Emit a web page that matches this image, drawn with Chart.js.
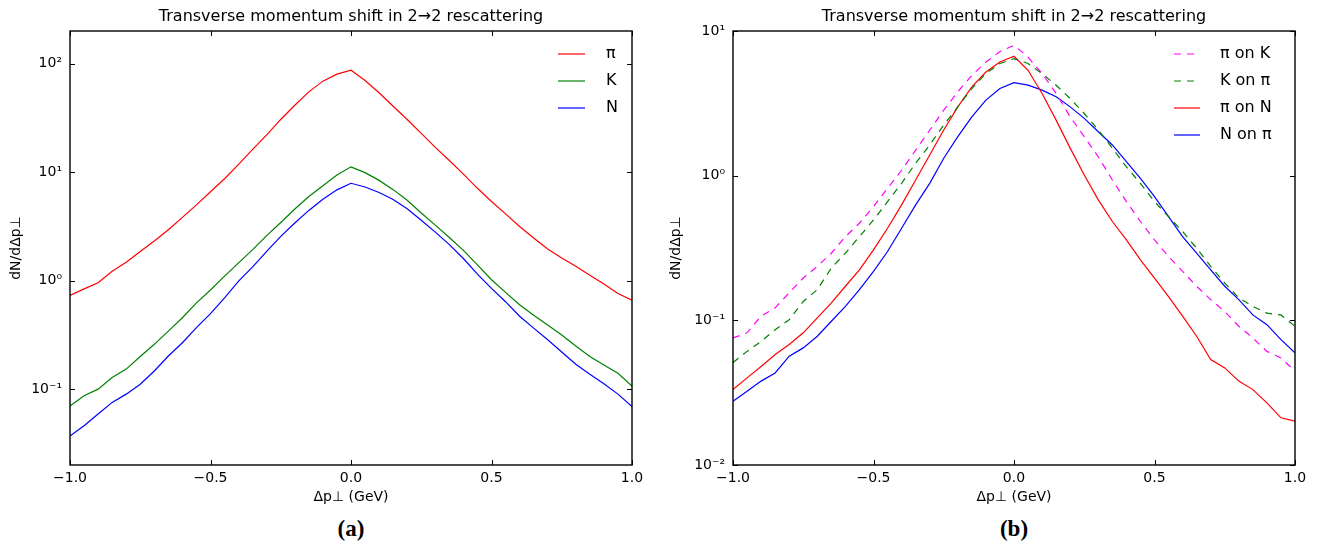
<!DOCTYPE html>
<html>
<head>
<meta charset="utf-8">
<script src="https://cdn.jsdelivr.net/npm/chart.js@4.4.1/dist/chart.umd.min.js"></script>
<style>
  body { margin: 0; background: #fff; }
  #page { position: relative; width: 1318px; height: 545px; font-family: "DejaVu Sans", sans-serif; }
  .panel { position: absolute; top: 0; }
  .tag { position: absolute; top: 516px; width: 80px; margin-left: -40px; text-align: center;
         font-family: "Liberation Serif", "DejaVu Serif", serif; font-weight: bold; font-size: 23px; }
</style>
</head>
<body>
<div id="page">
  <div class="panel" style="left:0"><canvas id="chartA" width="660" height="510"></canvas></div>
  <div class="panel" style="left:660px"><canvas id="chartB" width="658" height="510"></canvas></div>
  <div class="tag" style="left:351px">(a)</div>
  <div class="tag" style="left:1014px">(b)</div>
</div>
<script>
// Δp⊥ sample points (GeV)
const xValues = [-1.0, -0.95, -0.9, -0.85, -0.8, -0.75, -0.7, -0.65, -0.6, -0.55, -0.5,
  -0.45, -0.4, -0.35, -0.3, -0.25, -0.2, -0.15, -0.1, -0.05, 0.0,
  0.05, 0.1, 0.15, 0.2, 0.25, 0.3, 0.35, 0.4, 0.45, 0.5,
  0.55, 0.6, 0.65, 0.7, 0.75, 0.8, 0.85, 0.9, 0.95, 1.0];

// panel (a)
const pion = [0.73, 0.84, 0.955, 1.22, 1.48, 1.86, 2.32, 2.95, 3.83, 5.0, 6.6,
  8.7, 11.8, 16.2, 22.1, 30.6, 41.4, 55, 69, 80, 87,
  70, 54, 40.5, 30.6, 22.8, 16.9, 12.8, 9.6, 7.1, 5.37,
  4.13, 3.16, 2.47, 1.96, 1.62, 1.36, 1.12, 0.93, 0.76, 0.66];
const kaon = [0.070, 0.087, 0.100, 0.128, 0.153, 0.20, 0.259, 0.343, 0.455, 0.625, 0.82,
  1.10, 1.46, 1.93, 2.6, 3.44, 4.57, 5.97, 7.5, 9.4, 11.2,
  9.9, 8.4, 6.9, 5.5, 4.2, 3.25, 2.5, 1.9, 1.4, 1.02,
  0.78, 0.6, 0.48, 0.39, 0.315, 0.25, 0.2, 0.167, 0.14, 0.107];
const nucleon = [0.037, 0.046, 0.059, 0.0755, 0.090, 0.111, 0.147, 0.202, 0.268, 0.369, 0.496,
  0.695, 0.99, 1.34, 1.86, 2.56, 3.4, 4.44, 5.63, 6.87, 7.9,
  7.3, 6.5, 5.6, 4.6, 3.6, 2.8, 2.15, 1.6, 1.15, 0.85,
  0.64, 0.47, 0.365, 0.285, 0.22, 0.17, 0.137, 0.112, 0.09, 0.069];

// panel (b)
const piOnK = [0.0755, 0.082, 0.107, 0.122, 0.155, 0.196, 0.236, 0.291, 0.379, 0.469, 0.611,
  0.818, 1.09, 1.50, 2.06, 2.84, 3.80, 4.94, 6.1, 7.2, 7.96,
  6.6, 5.08, 3.7, 2.55, 1.86, 1.35, 0.933, 0.662, 0.482, 0.36,
  0.276, 0.218, 0.172, 0.139, 0.115, 0.091, 0.0755, 0.061, 0.055, 0.0445];
const kOnPi = [0.051, 0.061, 0.0716, 0.086, 0.101, 0.135, 0.163, 0.23, 0.291, 0.379, 0.494,
  0.662, 0.885, 1.22, 1.63, 2.24, 2.99, 4.0, 5.08, 5.96, 6.44,
  5.96, 5.08, 4.22, 3.41, 2.69, 2.07, 1.55, 1.15, 0.885, 0.662,
  0.521, 0.411, 0.315, 0.236, 0.181, 0.143, 0.125, 0.112, 0.109, 0.091];
const piOnN = [0.0332, 0.040, 0.048, 0.058, 0.068, 0.082, 0.104, 0.132, 0.172, 0.223, 0.307,
  0.433, 0.628, 0.933, 1.39, 2.07, 2.99, 4.11, 5.21, 6.11, 6.69,
  5.35, 3.7, 2.42, 1.55, 1.01, 0.68, 0.482, 0.36, 0.262, 0.196,
  0.146, 0.107, 0.0776, 0.0536, 0.0469, 0.038, 0.0332, 0.0269, 0.0212, 0.0201];
const nOnPi = [0.0276, 0.0324, 0.038, 0.0433, 0.0565, 0.0645, 0.0776, 0.0985, 0.125, 0.163, 0.218,
  0.299, 0.433, 0.628, 0.885, 1.32, 1.86, 2.55, 3.33, 4.0, 4.4,
  4.22, 3.9, 3.51, 2.99, 2.49, 2.01, 1.63, 1.25, 0.959, 0.716,
  0.521, 0.379, 0.291, 0.223, 0.172, 0.139, 0.109, 0.0933, 0.0736, 0.0596];

const xTicks = [-1.0, -0.5, 0.0, 0.5, 1.0];
const decadeLabels = { 0.01: "10⁻²", 0.1: "10⁻¹", 1: "10⁰", 10: "10¹", 100: "10²" };

const FONT = "'DejaVu Sans', sans-serif";
const TITLE = "Transverse momentum shift in 2→2 rescattering";

function points(ys) {
  return ys.map((y, i) => ({ x: xValues[i], y }));
}

function series(label, ys, color, dashed) {
  return {
    label,
    data: points(ys),
    borderColor: color,
    borderWidth: 1.2,
    borderDash: dashed ? [7, 6] : [],
    pointRadius: 0,
    tension: 0,
    fill: false,
  };
}

function strokeLine(ctx, x1, y1, x2, y2) {
  ctx.beginPath();
  ctx.moveTo(x1, y1);
  ctx.lineTo(x2, y2);
  ctx.stroke();
}

// box around the plot with inward ticks on all four sides, plus the title centred on the plot
const frameTicks = {
  id: "frameTicks",
  afterDraw(chart) {
    const { ctx, chartArea: a, scales } = chart;
    ctx.save();
    ctx.strokeStyle = "#000";
    ctx.lineWidth = 1;
    scales.x.ticks.forEach((t) => {
      const px = Math.round(scales.x.getPixelForValue(t.value)) + 0.5;
      strokeLine(ctx, px, a.bottom, px, a.bottom - 5);
      strokeLine(ctx, px, a.top, px, a.top + 5);
    });
    scales.y.ticks.forEach((t) => {
      const py = Math.round(scales.y.getPixelForValue(t.value)) + 0.5;
      strokeLine(ctx, a.left, py, a.left + 5, py);
      strokeLine(ctx, a.right, py, a.right - 5, py);
    });
    ctx.lineWidth = 1.4;
    ctx.strokeRect(a.left, a.top, a.right - a.left, a.bottom - a.top);

    ctx.fillStyle = "#000";
    ctx.font = `16px ${FONT}`;
    ctx.textAlign = "center";
    ctx.textBaseline = "middle";
    ctx.fillText(TITLE, (a.left + a.right) / 2, 17);
    ctx.restore();
  },
};

// legend drawn inside the plot, upper right
const innerLegend = {
  id: "innerLegend",
  afterDraw(chart, args, opts) {
    const { ctx, chartArea: a } = chart;
    ctx.save();
    ctx.font = `16px ${FONT}`;
    ctx.textBaseline = "middle";
    ctx.fillStyle = "#000";
    chart.data.datasets.forEach((ds, i) => {
      const y = a.top + opts.top + i * opts.rowGap;
      ctx.strokeStyle = ds.borderColor;
      ctx.lineWidth = ds.borderWidth;
      ctx.setLineDash(ds.borderDash);
      strokeLine(ctx, a.right - opts.lineStart, y, a.right - opts.lineEnd, y);
      ctx.setLineDash([]);
      ctx.fillText(ds.label, a.right - opts.textX, y);
    });
    ctx.restore();
  },
};

function buildChart(canvasId, datasets, cfg) {
  return new Chart(document.getElementById(canvasId), {
    type: "line",
    data: { datasets },
    plugins: [frameTicks, innerLegend],
    options: {
      responsive: false,
      animation: false,
      layout: { padding: { left: 0, right: cfg.rightPad, top: 31, bottom: 0 } },
      plugins: {
        legend: { display: false },
        tooltip: { enabled: false },
        title: { display: false },
        innerLegend: cfg.legend,
      },
      scales: {
        x: {
          type: "linear",
          min: -1,
          max: 1,
          afterBuildTicks: (scale) => { scale.ticks = xTicks.map((v) => ({ value: v })); },
          afterFit: (scale) => { scale.height = 45; },
          grid: { display: false, drawTicks: false },
          border: { display: false },
          ticks: {
            color: "#000",
            padding: 5,
            maxRotation: 0,
            font: { family: FONT, size: 14 },
            callback: (v) => (v < 0 ? "−" : "") + Math.abs(v).toFixed(1),
          },
          title: {
            display: true,
            text: "Δp⊥ (GeV)",
            color: "#000",
            font: { family: FONT, size: 14 },
            padding: { top: 0, bottom: 4 },
          },
        },
        y: {
          type: "logarithmic",
          min: cfg.yMin,
          max: cfg.yMax,
          afterBuildTicks: (scale) => {
            scale.ticks = cfg.yTicks.map((v) => ({ value: v }));
          },
          afterFit: (scale) => { scale.width = cfg.yWidth; },
          grid: { display: false, drawTicks: false },
          border: { display: false },
          ticks: {
            color: "#000",
            padding: 8,
            font: { family: FONT, size: 14 },
            callback: (v) => decadeLabels[v] || "",
          },
          title: {
            display: true,
            text: "dN/dΔp⊥",
            color: "#000",
            font: { family: FONT, size: 14 },
            padding: { top: 8, bottom: 0 },
          },
        },
      },
    },
  });
}

buildChart("chartA", [
  series("π", pion, "#ff0000", false),
  series("K", kaon, "#008000", false),
  series("N", nucleon, "#0000ff", false),
], {
  yMin: 0.02,
  yMax: 200,
  yTicks: [0.1, 1, 10, 100],
  yWidth: 70,
  rightPad: 28,
  legend: { top: 23, rowGap: 27, lineStart: 74, lineEnd: 47, textX: 26 },
});

buildChart("chartB", [
  series("π on K", piOnK, "#ff00ff", true),
  series("K on π", kOnPi, "#008000", true),
  series("π on N", piOnN, "#ff0000", false),
  series("N on π", nOnPi, "#0000ff", false),
], {
  yMin: 0.01,
  yMax: 10,
  yTicks: [0.01, 0.1, 1, 10],
  yWidth: 73,
  rightPad: 23,
  legend: { top: 23, rowGap: 27, lineStart: 121, lineEnd: 95, textX: 75 },
});
</script>
</body>
</html>
